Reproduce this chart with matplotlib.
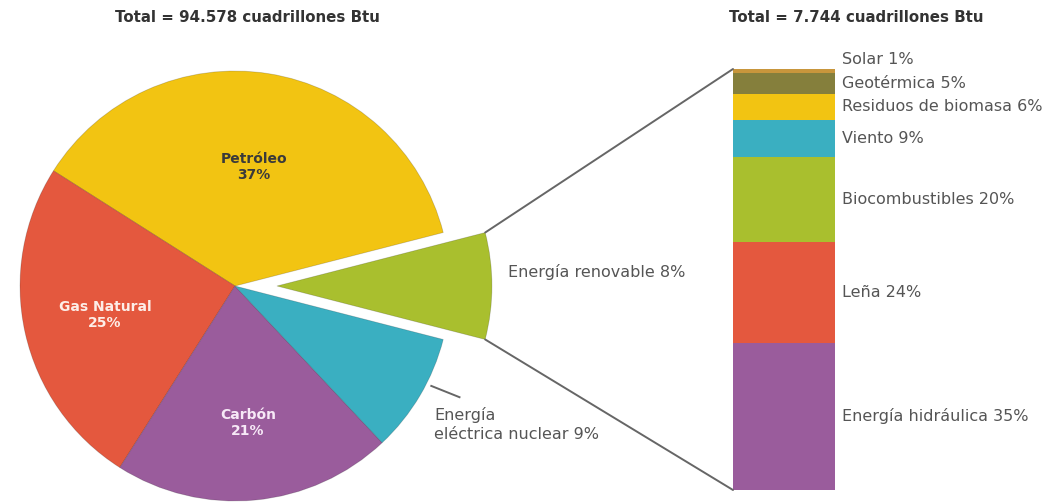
import numpy as np
import matplotlib
matplotlib.use("Agg")
import matplotlib.pyplot as plt
from matplotlib.patches import ConnectionPatch

# ---- data ----
pie_labels = ["Energía renovable 8%", "Petróleo\n37%", "Gas Natural\n25%", "Carbón\n21%",
              "Energía\neléctrica nuclear 9%"]
pie_values = [8, 37, 25, 21, 9]
pie_colors = ["#a9bf2e", "#f2c412", "#e4583e", "#9a5c9c", "#3aafc1"]

bar_labels = ["Energía hidráulica 35%", "Leña 24%", "Biocombustibles 20%", "Viento 9%",
              "Residuos de biomasa 6%", "Geotérmica 5%", "Solar 1%"]
bar_values = [35, 24, 20, 9, 6, 5, 1]
bar_colors = ["#9a5c9c", "#e4583e", "#a9bf2e", "#3aafc1", "#f2c412", "#857f3c", "#c8963c"]

title_left = "Total = 94.578 cuadrillones Btu"
title_right = "Total = 7.744 cuadrillones Btu"

W, H = 1053, 504
fig = plt.figure(figsize=(W / 100, H / 100), dpi=100)
fig.patch.set_facecolor("white")

# ---- pie (axes in pixel units, y up) ----
ax = fig.add_axes([0, 0, 1, 1])
R = 215
C = (235, 218)
start = 14.4 - pie_values[0] / sum(pie_values) * 360
explode = [0.195 * R, 0, 0, 0, 0]   # pie() offsets in data units
wedges, _ = ax.pie(pie_values, colors=pie_colors, startangle=start, counterclock=True,
                   radius=R, center=C, explode=explode, frame=True,
                   wedgeprops=dict(edgecolor=(0, 0, 0, 0.18), linewidth=0.6))
ax.set_xlim(0, W)
ax.set_ylim(0, H)
ax.set_aspect("equal")
ax.axis("off")


def pt(w, ang, frac=1.0):
    cx, cy = w.center
    a = np.deg2rad(ang)
    return cx + w.r * frac * np.cos(a), cy + w.r * frac * np.sin(a)


inner_styles = {1: ("#3a3a3a", 0.56), 2: ("#fdeee8", 0.62), 3: ("#f7e9f7", 0.64)}
for i, (col, frac) in inner_styles.items():
    w = wedges[i]
    mid = (w.theta1 + w.theta2) / 2
    x, y = pt(w, mid, frac)
    ax.text(x, y, pie_labels[i], ha="center", va="center", color=col,
            fontsize=10, fontweight="bold", linespacing=1.15)

# renewable label
w = wedges[0]
x, y = pt(w, (w.theta1 + w.theta2) / 2, 1.0)
ax.text(x + 16, y + 14, pie_labels[0], ha="left", va="center", color="#555555", fontsize=11.5)

# nuclear label with leader line
w = wedges[4]
x0, y0 = pt(w, 333, 1.02)
ax.plot([x0, x0 + 30], [y0, y0 - 12], color="#666666", lw=1.4, solid_capstyle="butt")
ax.text(x0 + 4, y0 - 21, pie_labels[4], ha="left", va="top", color="#555555",
        fontsize=11.5, linespacing=1.35)

# ---- stacked bar ----
bx = fig.add_axes([733 / W, (H - 490) / H, 102 / W, 421 / H])
bottom = 0
for v, c, lab in zip(bar_values, bar_colors, bar_labels):
    bx.bar(0, v, bottom=bottom, width=1.0, color=c, edgecolor="none")
    mid = bottom + v / 2
    dy = 8 if v < 3 else 0
    bx.annotate(lab, xy=(0.5, mid), xytext=(5, dy), textcoords="offset points",
                ha="left", va="center", color="#555555", fontsize=11.5,
                annotation_clip=False)
    bottom += v
bx.set_xlim(-0.5, 0.5)
bx.set_ylim(0, sum(bar_values))
bx.axis("off")

# connector lines
w = wedges[0]
top_pt = pt(w, w.theta2, 1.0)
bot_pt = pt(w, w.theta1, 1.0)
for p, yb in [(top_pt, sum(bar_values)), (bot_pt, 0)]:
    con = ConnectionPatch(xyA=p, coordsA=ax.transData, xyB=(-0.5, yb), coordsB=bx.transData,
                          color="#666666", lw=1.4)
    fig.add_artist(con)

# titles
fig.text(247 / W, 1 - 18 / H, title_left, ha="center", va="center", fontsize=10.8,
         fontweight="bold", color="#333333")
fig.text(856 / W, 1 - 18 / H, title_right, ha="center", va="center", fontsize=10.8,
         fontweight="bold", color="#333333")

fig.savefig("out.png", dpi=100, facecolor="white")
